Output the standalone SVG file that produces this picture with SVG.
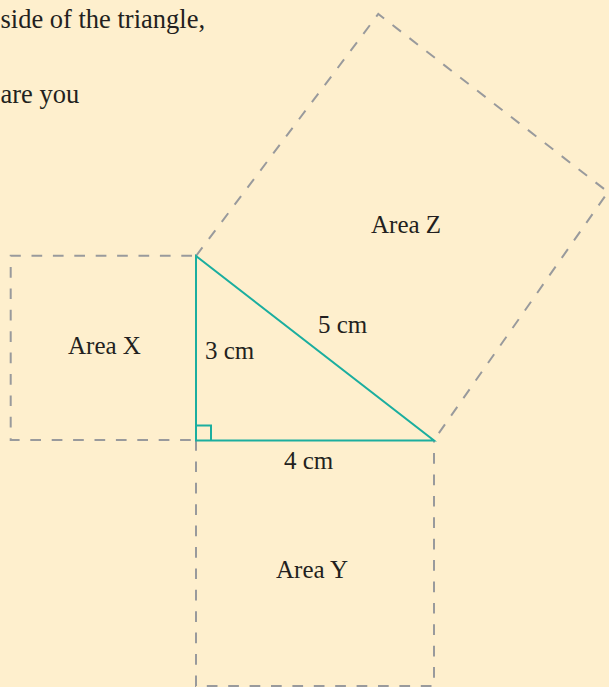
<svg xmlns="http://www.w3.org/2000/svg" width="609" height="687" viewBox="0 0 609 687">
<style>
.bg{fill:#FEEFCD}
.dash{fill:none;stroke:#999A9C;stroke-width:2;stroke-dasharray:10.7 10.7}
.tri{fill:none;stroke:#1BAE9F;stroke-width:2}
.t{font-family:"Liberation Serif","Times New Roman",serif;font-size:25px;fill:#231F20}
.body{font-family:"Liberation Serif","Times New Roman",serif;font-size:26.5px;fill:#231F20}
</style>
<rect class="bg" x="0" y="0" width="609" height="687"/>
<text class="body" x="0.5" y="28">side of the triangle,</text>
<text class="body" x="0.5" y="103">are you</text>
<g id="squareX">
<path class="dash" d="M196,255.7 L10.7,255.7 L10.7,440 L196,440" stroke-dashoffset="-4"/>
<text class="t" x="68" y="354">Area X</text>
</g>
<g id="squareY">
<path class="dash" d="M196,440 L196,686 L434,686 L434,440"/>
<text class="t" x="276" y="578">Area Y</text>
</g>
<g id="squareZ">
<path class="dash" d="M196,256 L378.3,14 L608,192 L434,440"/>
<text class="t" x="371" y="233">Area Z</text>
</g>
<g id="triangle">
<path class="tri" d="M196,256 L196,440.5 L434,440.5 Z"/>
<path class="tri" d="M196,425.5 L211,425.5 L211,440.5" stroke-width="1.5"/>
<text class="t" x="205" y="359">3 cm</text>
<text class="t" x="318" y="332.5">5 cm</text>
<text class="t" x="284" y="468.5">4 cm</text>
</g>
</svg>
